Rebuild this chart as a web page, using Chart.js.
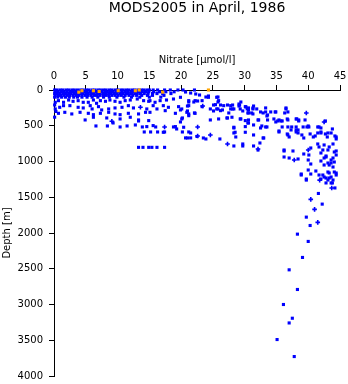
<!DOCTYPE html>
<html>
<head>
<meta charset="utf-8">
<script src="https://cdn.jsdelivr.net/npm/chart.js@4.4.0/dist/chart.umd.min.js"></script>
<style>
  html, body { margin: 0; padding: 0; background: #fff; }
  canvas { display: block; }
</style>
</head>
<body>
<canvas id="nitrateChart" width="348" height="384"></canvas>
<script>
// ===================================
// Nitrate vs depth scatter, MODS2005 April 1986
// ===================================

const FONT = 'DejaVu Sans';
const BLUE = '#0000ff';
const ORANGE = '#ffa500';

// Surface layer: one nitrate list per sampled depth (m)
const surfaceDepths = [0, 25, 50, 75, 100];
const surfaceNitrate = [
    [0.1, 0.5, 1.0, 1.4, 1.9, 2.3, 2.8, 3.2, 3.7, 4.2, 4.6, 5.1, 5.5, 6.0, 6.4, 6.9, 7.3, 7.8, 8.2, 8.7, 9.1, 9.6, 10.0, 10.5, 10.9, 11.4, 11.8, 12.3, 12.7, 13.2, 13.7, 14.1, 14.6, 15.0, 15.6, 16.3, 17.4, 18.3, 19.5, 20.3, 22.1],
    [0.2, 0.6, 1.1, 1.5, 2.0, 2.5, 2.9, 3.4, 3.8, 4.3, 4.8, 5.2, 5.7, 6.1, 6.6, 7.0, 7.5, 8.0, 8.4, 8.9, 9.3, 9.8, 10.2, 10.7, 11.2, 11.6, 12.1, 12.5, 13.0, 13.4, 13.9, 14.4, 14.9, 15.7, 16.6, 17.6, 18.9],
    [0.1, 0.5, 0.9, 1.4, 1.8, 2.3, 2.7, 3.2, 3.6, 4.1, 4.5, 5.0, 5.4, 5.9, 6.3, 6.8, 7.2, 7.7, 8.1, 8.6, 9.0, 9.5, 9.9, 10.4, 10.8, 11.3, 11.7, 12.2, 12.7, 13.1, 13.6, 14.2, 14.8, 15.5, 16.2, 17.1, 18.4],
    [0.2, 0.7, 1.1, 1.6, 2.1, 2.5, 3.0, 3.5, 3.9, 4.4, 4.9, 5.3, 5.8, 6.3, 6.7, 7.2, 7.7, 8.1, 8.6, 9.1, 9.6, 10.1, 10.6, 11.2, 11.8, 12.4, 13.0, 13.8, 14.7, 15.5, 17.3],
    [0.1, 0.6, 1.2, 1.8, 2.4, 3.1, 3.7, 4.4, 5.2, 6.0, 6.9, 7.8, 8.7, 9.9, 11.0, 12.2, 13.5, 15.0, 16.8]
];

// [nitrate, depth] pairs
const upperLayer = [
    [0.2, 172], [0.7, 149], [1.5, 172], [2.3, 140], [3.0, 158], [3.8, 149], [4.6, 172], [5.4, 172], [6.2, 140], [6.7, 186],
    [7.3, 149], [8.1, 158], [8.8, 140], [9.6, 158], [10.4, 172], [11.2, 149], [12.0, 140], [13.1, 126], [14.1, 149], [14.9, 158],
    [0.2, 265], [0.9, 242], [1.5, 219], [2.5, 219], [3.8, 242], [4.6, 251], [5.7, 219], [6.0, 265], [7.0, 233], [7.5, 279],
    [8.6, 265], [9.6, 251], [10.7, 242], [11.7, 219], [12.5, 251], [14.6, 265],
    [0.7, 326], [1.7, 312], [2.8, 335], [4.1, 312], [5.4, 326], [6.2, 345], [7.3, 326], [8.6, 312], [9.6, 335], [10.4, 345],
    [11.7, 326], [13.3, 335], [14.4, 312],
    [4.9, 419], [6.2, 381], [8.3, 391], [10.4, 405], [12.0, 381], [13.3, 419], [14.9, 428],
    [0.1, 380], [0.3, 300], [0.1, 210],
    [15.1, 149], [15.9, 172], [16.7, 149], [17.7, 140], [18.8, 126], [19.9, 102], [21.2, 149], [22.2, 149], [23.3, 149],
    [24.3, 102], [25.6, 102], [25.9, 149],
    [15.6, 219], [17.2, 219], [18.0, 242], [19.6, 233], [21.2, 219], [23.3, 233], [25.4, 205], [26.7, 219], [27.8, 219],
    [29.1, 196], [30.1, 233],
    [15.1, 312], [16.2, 265], [17.5, 289], [19.1, 326], [20.1, 265], [20.9, 312], [22.2, 326], [24.6, 265], [25.6, 265],
    [26.2, 289], [27.8, 265], [28.3, 265], [29.3, 265], [30.4, 265],
    [20.1, 405], [21.2, 359], [24.6, 419], [25.9, 405], [27.2, 391], [28.0, 381], [29.3, 405], [30.1, 428],
    [20.7, 28], [21.5, 42], [22.3, 56], [22.9, 70], [23.9, 98], [24.3, 84], [25.8, 98],
    [21.2, 168], [22.0, 168], [22.6, 154], [25.8, 168], [29.4, 168], [29.2, 210],
    [21.0, 224], [25.1, 210], [26.2, 210], [27.3, 210], [28.1, 210], [29.1, 224], [30.2, 237], [31.4, 224],
    [19.9, 279], [21.0, 293], [25.1, 293], [25.8, 265], [26.5, 279], [28.1, 265], [29.7, 293], [30.6, 279], [31.3, 265],
    [32.5, 307], [33.3, 307], [34.1, 307], [36.5, 265],
    [21.2, 335], [22.1, 321], [27.5, 321], [30.5, 321], [31.3, 335], [33.6, 349], [34.9, 307], [36.8, 307],
    [20.2, 391], [27.3, 391], [29.4, 405], [30.6, 419], [32.1, 419], [33.6, 419], [35.2, 433], [35.7, 433], [36.8, 419],
    [38.1, 405], [38.5, 419],
    [30.6, 251], [31.3, 251], [31.9, 265], [33.3, 251], [34.8, 307], [36.5, 251], [36.3, 321],
    [30.6, 321], [31.1, 321], [32.9, 321], [33.5, 363],
    [32.2, 419], [34.6, 405], [35.4, 419], [35.9, 433], [36.7, 405], [38.2, 405], [38.5, 433], [39.5, 419], [42.7, 433],
    [19.9, 447], [34.9, 447]
];

const middleLayer = [
    [6.6, 503], [8.4, 503], [9.3, 461], [10.4, 517], [11.5, 503], [12.8, 489], [13.3, 433], [13.9, 517], [14.6, 512],
    [14.2, 587], [15.2, 587], [16.0, 517], [16.3, 587], [17.4, 587], [18.8, 517], [19.3, 545], [20.2, 587], [21.2, 587],
    [21.0, 671], [15.6, 498], [19.1, 512], [20.4, 521], [28.3, 521], [30.1, 512], [17.2, 591], [28.5, 591], [30.1, 591],
    [13.3, 802], [14.0, 802], [14.9, 802], [15.4, 802], [16.2, 802], [17.4, 802],
    [20.7, 670], [21.5, 670], [22.5, 650],
    [28.3, 531], [30.5, 461], [32.5, 531], [33.3, 517], [36.8, 517], [37.3, 559], [38.4, 559], [39.2, 517], [40.1, 517],
    [41.5, 517], [42.0, 531], [43.6, 601], [40.0, 503],
    [21.5, 601], [23.5, 671], [26.1, 685], [28.3, 601], [28.6, 657], [31.4, 629], [32.9, 671], [35.4, 587], [36.8, 629],
    [38.1, 559], [38.4, 601], [39.3, 671], [40.8, 657], [41.5, 601], [42.0, 601], [43.1, 601], [44.4, 657],
    [23.9, 685], [28.3, 783], [29.7, 783], [29.7, 755], [31.4, 783], [32.4, 741], [33.0, 671], [36.2, 839], [37.6, 853],
    [40.4, 811], [41.5, 755], [41.7, 797], [42.3, 839], [42.5, 769], [43.1, 839], [43.3, 797], [43.9, 755], [44.1, 867],
    [44.4, 853],
    [30.6, 461], [31.4, 489], [32.7, 503], [33.5, 517], [35.9, 517], [37.4, 517], [38.1, 517], [39.8, 517], [41.7, 517],
    [43.8, 545], [35.4, 573], [36.7, 615], [37.0, 657], [38.1, 587], [39.0, 629], [40.3, 615], [41.1, 643], [42.0, 587],
    [42.7, 615], [43.0, 657], [44.2, 643], [44.4, 685],
    [32.1, 839], [36.2, 853], [39.3, 895], [42.0, 881]
];

const deepCluster = [
    [36.2, 937], [37.0, 951], [38.4, 965], [40.1, 909], [40.0, 979], [42.0, 993], [42.5, 951], [42.8, 923], [43.1, 1021],
    [43.6, 979], [43.9, 1077], [44.1, 1007], [40.4, 1035],
    [40.0, 1119], [38.9, 1189], [39.7, 1245], [41.2, 1133], [41.7, 1189], [42.0, 1245], [42.5, 1217], [43.1, 1259],
    [43.3, 1161], [43.6, 1217], [43.9, 1259], [44.1, 1147], [44.4, 1161],
    [38.9, 1175], [40.4, 1175], [42.8, 937], [43.6, 1021], [44.4, 909], [43.9, 951], [42.5, 1049], [43.3, 1049],
    [42.3, 1189], [43.1, 1147], [42.8, 1231], [43.3, 1231], [43.6, 1300], [44.4, 1189],
    [39.7, 1260], [42.8, 1300], [43.8, 1300], [44.2, 1370]
];

const deepTail = [
    [41.6, 1447], [42.2, 1596], [39.7, 1778], [40.3, 1895], [38.3, 2016], [40.0, 2118], [39.1, 2342], [37.0, 2515],
    [38.3, 2790], [36.1, 3000], [37.5, 3192], [37.0, 3258], [35.1, 3490], [37.8, 3728]
];

// samples drawn with a plus marker
const plusPoints = [
    [23.4, 224], [39.7, 321], [42.5, 447], [17.4, 517], [22.6, 517], [22.6, 643], [24.6, 629], [27.3, 755],
    [32.1, 825], [40.0, 839], [37.8, 979], [41.8, 1260], [43.7, 1370], [40.4, 1530], [41.0, 1670], [41.5, 1852],
    [13.6, 242], [9.1, 437]
];

// flagged surface samples (orange)
const flaggedPoints = [
    [3.9, 30], [4.4, 10], [6.2, 10], [7.1, 20], [10.1, 10], [12.8, 10], [13.4, 0], [17.1, 30], [24.3, 0]
];

const toXY = pairs => pairs.map(p => ({ x: p[0], y: p[1] }));

const surfacePairs = [];
surfaceDepths.forEach((depth, i) => {
    surfaceNitrate[i].forEach(n => surfacePairs.push([n, depth]));
});

const bluePairs = surfacePairs.concat(upperLayer, middleLayer, deepCluster, deepTail);

Chart.defaults.font.family = FONT;
Chart.defaults.color = '#000';

const ctx = document.getElementById('nitrateChart');

new Chart(ctx, {
    type: 'scatter',
    data: {
        datasets: [
            {
                label: 'flagged',
                data: toXY(flaggedPoints),
                pointStyle: 'rect',
                pointRadius: 2.2,
                backgroundColor: ORANGE,
                borderWidth: 0,
                clip: false
            },
            {
                label: 'plus',
                data: toXY(plusPoints),
                pointStyle: 'cross',
                pointRadius: 2.3,
                borderColor: BLUE,
                backgroundColor: BLUE,
                borderWidth: 1.6,
                clip: false
            },
            {
                label: 'nitrate',
                data: toXY(bluePairs),
                pointStyle: 'rect',
                pointRadius: 2.2,
                backgroundColor: BLUE,
                borderWidth: 0,
                clip: false
            }
        ]
    },
    options: {
        responsive: false,
        animation: false,
        events: [],
        layout: {
            padding: { left: 0, right: 8, top: 0, bottom: 8 }
        },
        plugins: {
            legend: { display: false },
            tooltip: { enabled: false },
            title: {
                display: true,
                text: 'MODS2005 in April, 1986',
                fullSize: false,
                color: '#000',
                font: { family: FONT, size: 14, weight: 'normal' },
                padding: { top: 0, bottom: 1.2 }
            }
        },
        scales: {
            x: {
                type: 'linear',
                position: 'top',
                min: 0,
                max: 45,
                ticks: {
                    stepSize: 5,
                    padding: 3,
                    color: '#000',
                    font: { size: 10 }
                },
                grid: {
                    drawOnChartArea: false,
                    drawTicks: true,
                    tickLength: 5,
                    tickColor: '#000',
                    tickWidth: 1
                },
                border: { display: true, color: '#000', width: 1 },
                title: {
                    display: true,
                    text: 'Nitrate [µmol/l]',
                    color: '#000',
                    font: { size: 10 },
                    padding: { top: 36, bottom: 0 }
                },
                // fixed axis band so the plot starts at y = 90
                afterFit: scale => {
                    scale.height = 72;
                    scale.paddingLeft = 0;
                    scale.paddingRight = 0;
                }
            },
            y: {
                type: 'linear',
                reverse: true,
                min: 0,
                max: 4000,
                ticks: {
                    stepSize: 500,
                    padding: 6,
                    color: '#000',
                    font: { size: 10 },
                    callback: value => String(value)
                },
                grid: {
                    drawOnChartArea: false,
                    drawTicks: true,
                    tickLength: 5,
                    tickColor: '#000',
                    tickWidth: 1
                },
                border: { display: true, color: '#000', width: 1 },
                title: {
                    display: true,
                    text: 'Depth [m]',
                    color: '#000',
                    font: { size: 10 },
                    padding: { top: 1, bottom: 0 }
                },
                afterFit: scale => {
                    scale.width = 54;
                    scale.paddingTop = 0;
                    scale.paddingBottom = 0;
                }
            }
        }
    }
});
</script>
</body>
</html>
